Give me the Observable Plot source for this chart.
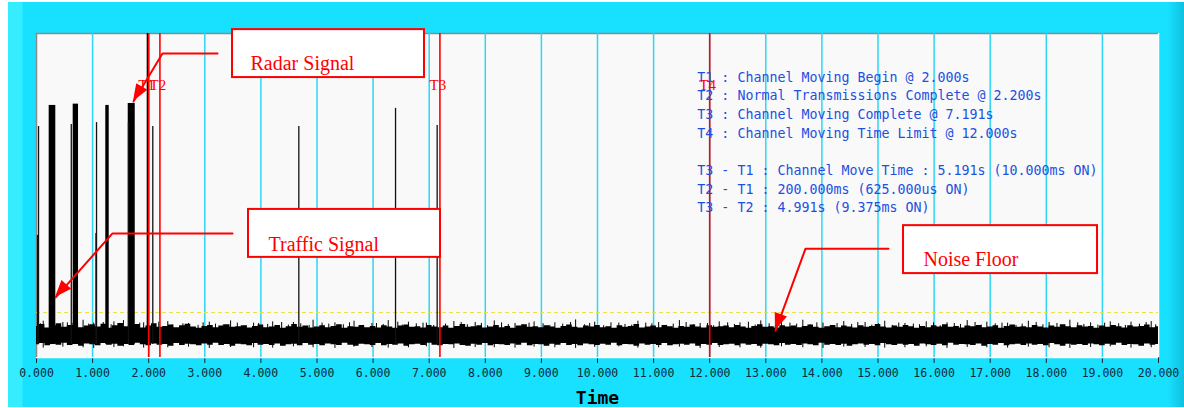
<!DOCTYPE html>
<html><head><meta charset="utf-8">
<script src="https://cdn.jsdelivr.net/npm/d3@7"></script>
<script src="https://cdn.jsdelivr.net/npm/@observablehq/plot@0.6"></script>
<style>
body{margin:0;background:#fff;}
#wrap{position:relative;width:1184px;height:408px;overflow:hidden;background:#fff;}
#panel{position:absolute;left:8px;top:2px;width:1176px;height:405px;
 background:linear-gradient(to right,#36ecff 0px,#36ecff 14px,#18e0ff 15px,#18e0ff 1160px,#0fc0e0 1176px);}
#chart{position:absolute;left:0;top:0;}
#chart svg{overflow:visible;}
</style></head><body>
<div id="wrap"><div id="panel"></div><div id="chart"></div></div>
<script>
// ---- data ----
const xTicks = d3.range(0, 21);
const gridTicks = d3.range(1, 20);
const noiseStep = 0.1;
const noiseTop = [
9.6,10.2,9.1,9.8,10.4,9.3,9.9,10.6,9.2,9.7,
10.1,9.4,10.3,9.0,9.8,10.5,9.5,9.9,10.2,9.1,
9.7,10.4,9.3,9.6,10.0,9.2,9.8,10.3,9.4,9.0,
9.6,9.9,9.2,9.7,10.1,9.3,9.5,9.8,9.1,9.6,
10.0,9.2,9.4,9.9,9.0,9.5,10.2,9.3,9.7,9.1,
9.4,9.8,9.2,9.6,10.1,9.0,9.5,9.3,9.9,9.2,
9.6,9.1,9.8,9.4,9.0,9.7,10.0,9.3,9.5,9.1,
9.9,9.4,9.2,9.7,9.0,9.6,10.2,9.3,9.5,9.8,
9.1,9.4,9.9,9.2,9.6,9.0,9.7,10.1,9.3,9.5,
9.2,9.8,9.4,9.0,9.6,10.0,9.3,9.1,9.7,9.4,
9.9,9.2,9.5,9.0,9.8,9.3,9.6,10.2,9.1,9.4,
9.7,9.2,9.9,9.5,9.0,9.6,9.3,10.0,9.4,9.1,
9.8,9.3,9.5,9.7,9.2,9.9,9.4,9.0,9.6,10.1,
9.3,9.5,9.1,9.8,9.4,9.7,9.2,9.6,10.0,9.3,
9.0,9.5,9.9,9.2,9.7,9.4,9.1,9.8,9.3,9.6,
10.2,9.4,9.1,9.7,9.3,9.9,9.5,9.0,9.6,9.2,
9.8,9.4,10.1,9.3,9.6,9.1,9.7,9.5,9.9,9.2,
9.4,9.8,9.0,9.6,10.0,9.3,9.5,9.2,9.9,9.4,
9.1,9.7,9.3,10.1,9.5,9.2,9.8,9.4,9.6,9.0,
9.7,9.3,9.9,9.5,9.1,9.8,9.4,9.6,10.0,9.2,
9.5];
const noiseBottom = [
3.9,4.3,3.6,4.1,3.8,4.4,3.7,4.0,3.5,4.2,
3.9,3.6,4.3,3.8,4.1,3.5,4.0,3.7,4.4,3.9,
3.6,4.2,3.8,4.0,3.5,4.3,3.7,4.1,3.9,3.6,
4.2,3.8,4.4,3.7,4.0,3.5,4.1,3.9,3.6,4.3,
3.8,4.0,3.7,4.2,3.5,3.9,4.1,3.6,4.3,3.8,
4.0,3.6,4.2,3.9,3.7,4.4,3.8,3.5,4.1,3.9,
3.7,4.3,3.6,4.0,3.8,4.2,3.5,3.9,4.1,3.7,
4.4,3.8,3.6,4.0,3.9,4.2,3.7,3.5,4.1,3.8,
4.3,3.6,4.0,3.9,3.7,4.2,3.8,4.4,3.6,4.0,
3.9,3.5,4.1,3.8,4.3,3.7,4.0,3.6,4.2,3.9,
3.7,4.1,3.8,4.4,3.6,4.0,3.9,3.5,4.2,3.8,
4.0,3.7,4.3,3.6,3.9,4.1,3.8,4.2,3.5,4.0,
3.8,4.3,3.7,3.9,4.1,3.6,4.2,3.8,4.0,3.5,
4.1,3.9,3.6,4.3,3.8,4.0,3.7,4.2,3.9,3.6,
4.4,3.8,4.0,3.7,4.1,3.5,3.9,4.2,3.8,4.0,
3.6,4.3,3.9,3.7,4.1,3.8,4.0,3.5,4.2,3.9,
3.7,4.1,3.6,4.4,3.8,4.0,3.9,3.7,4.2,3.5,
4.0,3.8,4.3,3.6,3.9,4.1,3.7,4.2,3.8,4.0,
3.6,4.3,3.9,3.5,4.1,3.8,4.0,3.7,4.2,3.9,
3.6,4.1,3.8,4.4,3.7,4.0,3.9,3.5,4.2,3.8,
4.0];
const spikeT = [0.12,0.47,0.83,1.02,1.38,1.55,1.91,2.34,2.71,3.08,3.46,3.87,4.21,4.58,4.93,5.32,5.66,5.98,6.27,6.63,6.95,7.44,7.82,8.16,8.53,8.87,9.24,9.61,9.95,10.38,10.72,11.09,11.46,11.83,12.17,12.54,12.91,13.28,13.66,14.02,14.39,14.77,15.12,15.48,15.86,16.23,16.59,16.94,17.31,17.68,18.05,18.42,18.79,19.14,19.51,19.87];
const spikeTop = [11.2,10.8,11.5,10.6,11.0,11.4,10.7,11.1,10.5,10.9,11.3,10.6,11.0,10.8,11.5,10.7,11.2,10.5,11.4,10.9,10.6,11.1,10.8,11.3,10.5,11.0,10.7,11.6,10.9,10.6,11.2,10.8,11.4,10.5,11.0,10.7,11.3,10.9,11.5,10.6,11.1,10.8,11.2,10.5,11.0,10.7,11.4,10.9,10.6,11.2,10.8,11.5,10.7,11.0,10.9,11.1];
const spikeBottom = [2.9,3.2,3.0,2.8,3.1,3.3,2.9,3.0,3.2,2.8,3.1,3.0,2.9,3.3,3.0,2.8,3.2,3.1,2.9,3.0,3.3,2.8,3.1,3.0,2.9,3.2,3.0,2.8,3.1,3.3,2.9,3.0,3.2,2.8,3.1,3.0,2.9,3.3,3.0,2.8,3.2,3.1,2.9,3.0,3.3,2.8,3.1,3.0,2.9,3.2,3.0,2.8,3.1,3.3,2.9,3.0];
const spike2T = [
0.07,0.29,0.55,0.71,0.93,1.19,1.33,1.47,1.68,1.84,
2.05,2.18,2.42,2.61,2.88,2.97,3.19,3.33,3.58,3.74,
3.96,4.12,4.37,4.49,4.71,4.86,5.09,5.21,5.47,5.58,
5.81,6.06,6.18,6.44,6.52,6.77,6.89,7.08,7.29,7.57,
7.68,7.93,8.04,8.29,8.41,8.66,8.78,9.03,9.15,9.38,
9.52,9.77,9.86,10.11,10.24,10.49,10.61,10.86,10.97,11.22,
11.35,11.58,11.71,11.96,12.07,12.32,12.44,12.69,12.81,13.06,
13.17,13.43,13.55,13.79,13.91,14.16,14.27,14.53,14.64,14.89,
15.01,15.26,15.37,15.63,15.74,15.99,16.11,16.36,16.47,16.73,
16.84,17.09,17.21,17.46,17.57,17.82,17.94,18.19,18.31,18.56,
18.67,18.92,19.04,19.29,19.41,19.66,19.78,19.95];
const spike2Top = [
10.4,10.0,10.7,9.9,10.3,10.8,10.1,10.5,9.8,10.6,
10.2,10.9,10.0,10.4,9.9,10.7,10.3,10.1,10.6,9.8,
10.5,10.2,10.8,10.0,10.4,9.9,10.6,10.3,10.1,10.7,
9.8,10.5,10.2,10.9,10.0,10.4,10.6,9.9,10.3,10.8,
10.1,10.5,9.8,10.7,10.2,10.0,10.6,10.4,9.9,10.3,
10.8,10.1,10.5,9.8,10.7,10.2,10.0,10.6,10.4,9.9,
10.3,10.8,10.1,10.5,9.8,10.7,10.2,10.9,10.0,10.4,
9.9,10.6,10.3,10.1,10.7,9.8,10.5,10.2,10.8,10.0,
10.4,9.9,10.6,10.3,10.1,10.7,9.8,10.5,10.2,10.8,
10.0,10.4,10.6,9.9,10.3,10.8,10.1,10.5,9.8,10.7,
10.2,10.0,10.6,10.4,9.9,10.3,10.8,10.1];
// radar / traffic pulses (wide bursts)
const pulseStart = [0.226, 0.654, 1.235, 1.635, 1.973];
const pulseEnd   = [0.344, 0.749, 1.296, 1.760, 2.002];
const pulseTop   = [77.8, 78.2, 77.8, 78.4, 100];
// narrow single pulses
const lineT   = [0.018, 0.036, 0.620, 1.060, 1.070, 1.640, 2.073, 4.676, 6.400, 7.142];
const lineTop = [37.7, 71.3, 71.9, 38.3, 72.5, 72.5, 71.3, 71.3, 76.9, 71.6];
const threshold = 13.9;
// event markers
const markerNames = ["T1", "T2", "T3", "T4"];
const markerTimes = [2.0, 2.2, 7.191, 12.0];
const markerLabelY = 84;
// info text
const infoLines = [
 "T1 : Channel Moving Begin @ 2.000s",
 "T2 : Normal Transmissions Complete @ 2.200s",
 "T3 : Channel Moving Complete @ 7.191s",
 "T4 : Channel Moving Time Limit @ 12.000s",
 "T3 - T1 : Channel Move Time : 5.191s (10.000ms ON)",
 "T2 - T1 : 200.000ms (625.000us ON)",
 "T3 - T2 : 4.991s (9.375ms ON)"];
const infoRows = [0, 1, 2, 3, 5, 6, 7];
const infoX = 11.78, infoY0 = 86.4, infoStep = 5.75;
// callout boxes
const boxLabels = ["Radar Signal", "Traffic Signal", "Noise Floor"];
const boxX1 = [3.494, 3.779, 15.455];
const boxX2 = [6.916, 7.201, 18.913];
const boxY1 = [86.4, 30.9, 25.9];
const boxY2 = [101.2, 45.7, 40.7];
const boxTextX = [3.815, 4.135, 15.81];
const boxTextY = [90.6, 35.0, 30.1];
const arrowX = [[3.226, 2.246, 1.729], [3.494, 1.355, 0.339], [15.187, 13.708, 13.173]];
const arrowY = [[93.8, 93.8, 79.0], [38.3, 38.3, 18.5], [33.6, 33.6, 8.3]];

// ---- tables ----
const noise = noiseTop.map((t, i) => ({t: i * noiseStep, hi: t, lo: noiseBottom[i]}));
const spikes = spikeT.map((t, i) => ({t, hi: spikeTop[i], lo: spikeBottom[i]}));
const spikes2 = spike2T.map((t, i) => ({t, hi: spike2Top[i]}));
const pulses = pulseStart.map((s, i) => ({s, e: pulseEnd[i], top: pulseTop[i]}));
const lines = lineT.map((t, i) => ({t, top: lineTop[i]}));
const markers = markerNames.map((n, i) => ({n, t: markerTimes[i]}));
const info = infoLines.map((s, i) => ({s, y: infoY0 - infoRows[i] * infoStep}));
const boxes = boxLabels.map((s, i) => ({s, x1: boxX1[i], x2: boxX2[i], y1: boxY1[i], y2: boxY2[i], tx: boxTextX[i], ty: boxTextY[i]}));
const arrowPts = arrowX.flatMap((xs, k) => xs.map((x, j) => ({k, x, y: arrowY[k][j]})));

const red = "#ff0000";
const plot = Plot.plot({
  width: 1184, height: 408,
  marginLeft: 36, marginRight: 26, marginTop: 33, marginBottom: 51,
  style: {background: "transparent", color: "#0c2c3c", fontFamily: "DejaVu Sans Mono", fontSize: "11.5px"},
  x: {domain: [0, 20], ticks: xTicks, tickFormat: d3.format(".3f"), tickSize: 6, tickPadding: 5, label: null},
  y: {domain: [0, 100], axis: null},
  marks: [
    Plot.frame({fill: "#f9f9f9", stroke: null}),
    Plot.ruleY([0], {stroke: "#ffffff", strokeWidth: 1.5}),
    Plot.ruleX([20], {stroke: "#ffffff", strokeWidth: 1.5}),
    Plot.ruleY([100], {stroke: "#8a8a8a", strokeWidth: 1.5}),
    Plot.ruleX([0], {stroke: "#8a8a8a", strokeWidth: 1.5}),
    Plot.ruleX(gridTicks, {stroke: "#2cd6f6", strokeWidth: 1.5}),
    Plot.ruleY([threshold], {stroke: "#e8e040", strokeWidth: 1, strokeDasharray: "4,3"}),
    Plot.areaY(noise, {x: "t", y1: "lo", y2: "hi", curve: "step", fill: "#000"}),
    Plot.ruleX(spikes, {x: "t", y1: "lo", y2: "hi", stroke: "#000", strokeWidth: 1}),
    Plot.ruleX(spikes2, {x: "t", y1: 5, y2: "hi", stroke: "#000", strokeWidth: 1}),
    Plot.rectY(pulses, {x1: "s", x2: "e", y1: 4, y2: "top", fill: "#000"}),
    Plot.ruleX(lines, {x: "t", y1: 4, y2: "top", stroke: "#111", strokeWidth: 1.3}),
    Plot.ruleX(markers, {x: "t", stroke: red, strokeWidth: 1.6}),
    Plot.text(markers, {x: "t", y: markerLabelY, text: "n", dx: -2, fill: red, fontFamily: "Liberation Serif", fontSize: 15}),
    Plot.text(info, {x: infoX, y: "y", text: "s", textAnchor: "start", fill: "#1c50e0", fontFamily: "DejaVu Sans Mono", fontSize: 13.3}),
    Plot.rect(boxes, {x1: "x1", x2: "x2", y1: "y1", y2: "y2", fill: "#fff", stroke: red, strokeWidth: 2}),
    Plot.text(boxes, {x: "tx", y: "ty", text: "s", textAnchor: "start", fill: red, fontFamily: "Liberation Serif", fontSize: 20}),
    Plot.line(arrowPts, {x: "x", y: "y", z: "k", stroke: red, strokeWidth: 2}),
    Plot.text(["Time"], {frameAnchor: "bottom", dy: 46, fill: "#000", fontWeight: "bold", fontFamily: "DejaVu Sans Mono", fontSize: 18})
  ]
});
document.getElementById("chart").appendChild(plot);

// filled arrowheads, positioned from the arrow data through the plot scales
const sx = plot.scale("x"), sy = plot.scale("y");
const svg = d3.select(plot.tagName.toLowerCase() === "svg" ? plot : plot.querySelector("svg"));
arrowX.forEach((xs, k) => {
  const ys = arrowY[k], n = xs.length;
  const tx = sx.apply(xs[n - 1]), ty = sy.apply(ys[n - 1]);
  const px = sx.apply(xs[n - 2]), py = sy.apply(ys[n - 2]);
  const dx = tx - px, dy = ty - py, L = Math.hypot(dx, dy);
  const ux = dx / L, uy = dy / L, len = 17, hw = 6.5;
  const bx = tx - ux * len, by = ty - uy * len;
  const pts = [[tx, ty], [bx - uy * hw, by + ux * hw], [bx + uy * hw, by - ux * hw]];
  svg.append("polygon").attr("points", pts.map(p => p.join(",")).join(" ")).attr("fill", red);
});
</script>
</body></html>
